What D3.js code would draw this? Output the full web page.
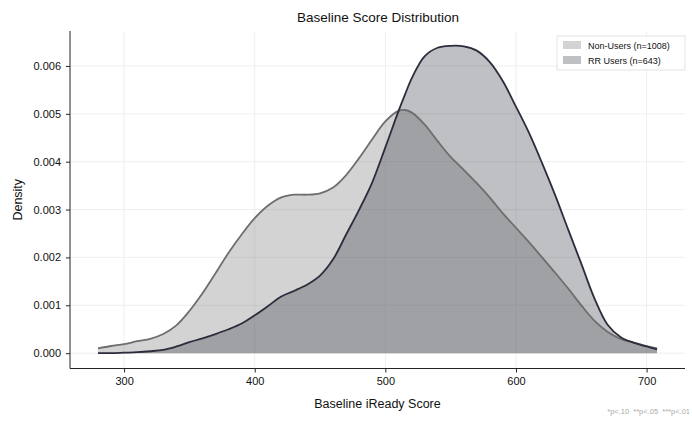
<!DOCTYPE html>
<html><head><meta charset="utf-8">
<script src="https://cdn.jsdelivr.net/npm/d3@7"></script>
<style>body{margin:0;background:#fff;} svg{display:block;font-family:"Liberation Sans",Arial,sans-serif;}</style>
</head><body><svg id="c" width="692" height="422"></svg>
<script>
const scores = [280,290,300,310,320,330,340,350,360,370,380,390,400,410,420,430,440,450,460,470,480,490,500,510,515,520,530,540,550,560,570,580,590,600,610,620,630,640,650,660,670,680,690,700,708];
const nonUsers = [0.00010,0.00015,0.00019,0.00025,0.00030,0.00040,0.00058,0.00088,0.00125,0.00167,0.00210,0.00248,0.00282,0.00308,0.00325,0.00331,0.00331,0.00334,0.00346,0.00372,0.00408,0.00447,0.00484,0.00506,0.00508,0.00503,0.00478,0.00443,0.00410,0.00383,0.00355,0.00325,0.00292,0.00262,0.00232,0.00200,0.00168,0.00135,0.00100,0.00068,0.00045,0.00030,0.00022,0.00015,0.00010];
const rrUsers = [0.00000,0.00000,0.00001,0.00002,0.00004,0.00007,0.00014,0.00023,0.00031,0.00040,0.00050,0.00062,0.00079,0.00098,0.00118,0.00130,0.00143,0.00162,0.00196,0.00248,0.00300,0.00357,0.00430,0.00505,0.00540,0.00573,0.00620,0.00638,0.00642,0.00641,0.00632,0.00608,0.00568,0.00515,0.00460,0.00397,0.00330,0.00258,0.00187,0.00115,0.00060,0.00034,0.00022,0.00014,0.00008];
const xTicks = [300,400,500,600,700];
const yTicks = [0,0.001,0.002,0.003,0.004,0.005,0.006];
const seriesNames = ["Non-Users (n=1008)","RR Users (n=643)"];
const seriesColors = ["#6e6e6e","#2b2d3c"];

const svg = d3.select("#c");
const L=70, R=685, T=31, B=368.5;
const x = d3.scaleLinear().domain([258.6,729.4]).range([L,R]);
const y = d3.scaleLinear().domain([-0.00032,0.00673]).range([B,T]);

const g = svg.append("g");
g.selectAll(".gx").data(xTicks).enter().append("line")
  .attr("x1",d=>x(d)).attr("x2",d=>x(d)).attr("y1",T).attr("y2",B)
  .attr("stroke","#ebebeb").attr("stroke-width",0.8);
g.selectAll(".gy").data(yTicks).enter().append("line")
  .attr("y1",d=>y(d)).attr("y2",d=>y(d)).attr("x1",L).attr("x2",R)
  .attr("stroke","#ebebeb").attr("stroke-width",0.8);

const series = [nonUsers, rrUsers];
const curve = d3.curveCatmullRom.alpha(0.5);
const area = d3.area().x((d,i)=>x(scores[i])).y0(y(0)).y1(d=>y(d)).curve(curve);
const line = d3.line().x((d,i)=>x(scores[i])).y(d=>y(d)).curve(curve);
series.forEach((s,k)=>{
  svg.append("path").datum(s).attr("d",area).attr("fill",seriesColors[k]).attr("fill-opacity",0.3);
});
series.forEach((s,k)=>{
  svg.append("path").datum(s).attr("d",line).attr("fill","none").attr("stroke",seriesColors[k]).attr("stroke-width",1.8);
});

const xa = svg.append("g").attr("transform",`translate(0,${B})`)
  .call(d3.axisBottom(x).tickValues(xTicks).tickSize(4).tickPadding(5).tickFormat(d3.format("d")));
const ya = svg.append("g").attr("transform",`translate(${L},0)`)
  .call(d3.axisLeft(y).tickValues(yTicks).tickSize(4).tickPadding(5).tickFormat(d3.format(".3f")));
[xa,ya].forEach(a=>{
  a.select(".domain").attr("stroke","#222").attr("stroke-width",1);
  a.selectAll(".tick line").attr("stroke","#222");
  a.selectAll("text").attr("font-size",11).attr("fill","#111").attr("font-family","Liberation Sans, Arial, sans-serif");
});
xa.select(".domain").attr("d",`M${L},0H${R}`);
ya.select(".domain").attr("d",`M0,${T}V${B}`);

svg.append("text").attr("x",(L+R)/2+0.5).attr("y",22).attr("text-anchor","middle")
  .attr("font-size",13.5).attr("fill","#111").text("Baseline Score Distribution");
svg.append("text").attr("x",(L+R)/2).attr("y",408).attr("text-anchor","middle")
  .attr("font-size",12.5).attr("fill","#111").text("Baseline iReady Score");
svg.append("text").attr("transform",`translate(22,${(T+B)/2}) rotate(-90)`).attr("text-anchor","middle")
  .attr("font-size",12.5).attr("fill","#111").text("Density");
svg.append("text").attr("x",690).attr("y",414).attr("text-anchor","end")
  .attr("font-size",7.5).attr("fill","#aaa").text("*p<.10\u00a0\u00a0**p<.05\u00a0\u00a0***p<.01");

const lg = svg.append("g").attr("transform","translate(557,36)");
lg.append("rect").attr("width",128).attr("height",34).attr("fill","#fff").attr("fill-opacity",0.85)
  .attr("stroke","#ddd").attr("stroke-width",0.8);
seriesNames.forEach((n,k)=>{
  lg.append("rect").attr("x",6).attr("y",5+k*15).attr("width",18).attr("height",8)
    .attr("fill",seriesColors[k]).attr("fill-opacity",0.3);
  lg.append("text").attr("x",31).attr("y",12.8+k*15).attr("font-size",9).attr("fill","#111").text(n);
});
</script></body></html>
